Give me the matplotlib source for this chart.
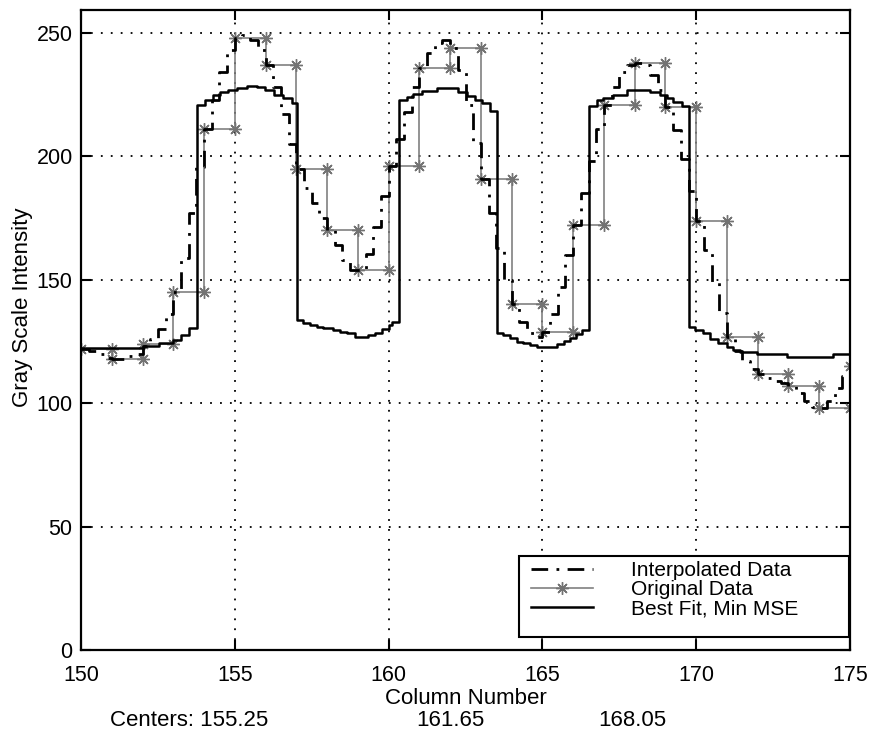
"""
Column profile: original samples, interpolated samples and best-fit model.
"""

import numpy as np
import matplotlib
matplotlib.use('Agg')
import matplotlib.pyplot as plt
from matplotlib.patches import Rectangle

plt.rcParams['font.family'] = ['Liberation Sans', 'DejaVu Sans']
plt.rcParams['font.size'] = 16

# original data, one value per column 150..175
COLS = list(range(150, 176))
ORIG = [122, 118, 124, 145, 211, 248, 237, 195, 170, 154, 196, 236, 244,
        191, 140, 129, 172, 221, 238, 220, 174, 127, 112, 107, 98, 115]

# interpolated data, quarter-column steps (4 values per column, last = 175)
INTERP = [
    122, 121, 120, 118.5,      # 150
    118, 118, 119, 120,        # 151
    123, 126, 130, 136,        # 152
    145, 159, 177, 195.5,      # 153
    211, 223, 234, 243,        # 154
    248, 249, 247, 243,        # 155
    237, 228, 217, 205,        # 156
    195, 187, 181, 175,        # 157
    170, 164, 158, 154,        # 158
    154, 160.5, 171.5, 184,    # 159
    196, 207, 218, 228,        # 160
    236, 242, 246, 247,        # 161
    244, 235, 221, 205.5,      # 162
    191, 177, 163, 150,        # 163
    140, 133, 128.5, 127,      # 164
    129, 136, 147, 160,        # 165
    172, 185, 198, 211,        # 166
    221, 228, 234, 237,        # 167
    238, 237, 233, 227,        # 168
    220, 210.5, 199, 186,      # 169
    174, 162, 149, 136.5,      # 170
    127, 121, 117, 114,        # 171
    112, 110, 109, 108,        # 172
    107, 104, 101, 98.5,       # 173
    98, 101, 106, 111,         # 174
    115,                       # 175
]

# best fit (min MSE): step start positions and levels
FIT_X = [150.0, 152.05, 152.55, 152.98, 153.25, 153.52,
         153.78, 154.03, 154.3, 154.52, 154.79, 155.06, 155.39, 155.71,
         155.98, 156.27, 156.58, 156.85,
         157.01, 157.23, 157.45, 157.66, 157.88, 158.2, 158.42, 158.64,
         158.91, 159.34, 159.56, 159.78, 160.0, 160.12,
         160.35, 160.59, 160.8, 161.07, 161.56, 162.27, 162.54, 162.81,
         163.03, 163.3,
         163.54, 163.73, 163.95, 164.16, 164.38, 164.6, 164.82, 165.03,
         165.25, 165.47, 165.7, 165.9, 166.1, 166.3,
         166.53, 166.76, 166.98, 167.31, 167.74, 168.5, 168.82, 169.04,
         169.26, 169.53,
         169.76, 169.96, 170.23, 170.45, 170.72, 170.99, 171.2, 171.42,
         171.97, 172.94, 173.48, 174.46]
FIT_Y = [122.3, 123.3, 124.3, 125.6, 127.6, 130.3,
         220.8, 222.9, 224.9, 226.2, 226.9, 227.6, 228.5, 228.0,
         227.0, 224.8, 223.6, 221.8,
         133.7, 132.6, 131.7, 131.0, 130.3, 129.6, 129.0, 128.3,
         127.0, 127.5, 128.6, 130.0, 131.5, 132.8,
         222.9, 224.0, 225.3, 226.5, 227.6, 226.0, 224.5, 223.0,
         221.5, 218.5,
         128.6, 127.6, 126.3, 124.9, 124.3, 123.6, 122.9, 122.6,
         122.9, 124.0, 125.2, 126.6, 128.0, 129.5,
         220.4, 222.9, 223.8, 224.9, 226.7, 225.9, 224.9, 223.8,
         222.2, 220.4,
         131.0, 129.7, 128.3, 126.0, 124.2, 122.9, 121.6, 120.9,
         119.9, 118.8, 118.6, 119.9]

CENTERS = ['155.25', '161.65', '168.05']


def main():
    fig = plt.figure(figsize=(8.7, 7.36), dpi=100)
    ax = fig.add_axes([81 / 870, 86 / 736, 769 / 870, 640 / 736])

    # interpolated data (quarter-column stairs)
    xi = np.arange(len(INTERP)) * 0.25 + COLS[0]
    ax.step(xi, INTERP, where='post', color='black', lw=2.0,
            linestyle=(0, (6, 3, 1, 3)), label='Interpolated Data', zorder=3)

    # original data: stairs with markers at every corner
    xs = np.repeat(COLS, 2)[1:]
    ys = np.repeat(ORIG, 2)[:-1]
    ax.plot(xs, ys, color='0.5', lw=1.2, marker=(8, 2, 0), markersize=9,
            markeredgewidth=1.0, markeredgecolor='0.45',
            label='Original Data', zorder=2)

    # best fit
    ax.step(FIT_X + [175], FIT_Y + [FIT_Y[-1]], where='post', color='black',
            lw=1.8, label='Best Fit, Min MSE', zorder=4)

    ax.set_xlim(150, 175)
    ax.set_ylim(0, 259.3)
    ax.set_xticks(range(150, 176, 5))
    ax.set_yticks(range(0, 251, 50))
    ax.grid(True, color='black', linestyle=(0, (1, 4.5)), lw=1.3)
    ax.tick_params(direction='in', top=True, right=True, length=7,
                   width=1.5, labelsize=15.5)
    ax.tick_params(axis='x', pad=11)
    ax.tick_params(axis='y', pad=6)
    for sp in ax.spines.values():
        sp.set_linewidth(1.6)

    ax.set_xlabel('Column Number', labelpad=1)
    ax.set_ylabel('Gray Scale Intensity')
    ax.yaxis.set_label_coords(-0.062, 0.536)

    # legend: MATLAB-style box, wider than matplotlib's own frame
    ax.add_patch(Rectangle((0.5696, 0.0203), 0.9987 - 0.5696, 0.1469 - 0.0203,
                           transform=ax.transAxes, facecolor='white',
                           edgecolor='black', lw=1.5, zorder=5))
    leg = ax.legend(loc='center left', bbox_to_anchor=(0.585, 0.0938),
                    frameon=False, handlelength=3.0, handletextpad=1.8,
                    labelspacing=0.0, borderpad=0, borderaxespad=0,
                    fontsize=15)
    leg.set_zorder(6)

    # centres of the three fitted bars, written under the axis
    fig.text(110 / 870, 1 - 720 / 736, 'Centers: ' + CENTERS[0],
             ha='left', va='center')
    fig.text(450.8 / 870, 1 - 720 / 736, CENTERS[1],
             ha='center', va='center')
    fig.text(632.5 / 870, 1 - 720 / 736, CENTERS[2],
             ha='center', va='center')

    fig.savefig('out.png', dpi=100)
    plt.close(fig)


if __name__ == '__main__':
    main()
